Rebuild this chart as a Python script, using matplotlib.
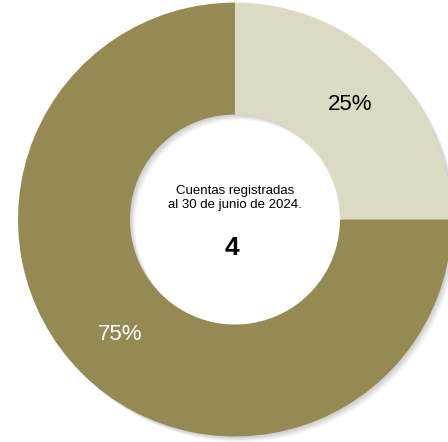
import matplotlib
matplotlib.use("Agg")
import matplotlib.pyplot as plt
from matplotlib.patches import Wedge

plt.rcParams['font.family'] = ['Liberation Sans', 'DejaVu Sans']

labels = ['Segmento A', 'Segmento B']
values = [1, 3]
colors = ['#DDD9C3', '#968A54']
pct_colors = ['black', 'white']
center_title = 'Cuentas registradas\nal 30 de junio de 2024.'
center_value = '4'

fig = plt.figure(figsize=(4.48, 4.42), dpi=100)
ax = fig.add_axes([0, 0, 1, 1])
ax.axis('off')

ring_width = 0.516

# soft drop shadow (offset right-down, layered for blur)
for k in range(8):
    off = 0.004 + 0.003 * k
    ax.add_patch(Wedge((off, -off), 1.0, 0, 360, width=ring_width,
                       facecolor='black', alpha=0.025, edgecolor='none', zorder=0))

wedges, texts, autotexts = ax.pie(
    values, colors=colors, startangle=90, counterclock=False,
    radius=1.0, autopct='%1.0f%%', pctdistance=0.75,
    wedgeprops=dict(width=ring_width, edgecolor='none'),
    textprops=dict(fontsize=16))
for t, c in zip(autotexts, pct_colors):
    t.set_color(c)
for w in wedges:
    w.set_zorder(2)
for t in autotexts:
    t.set_zorder(3)

ax.set_xlim(-1.083, 0.982)
ax.set_ylim(-1.025, 1.0115)
ax.set_aspect('equal')

ax.text(0, 0.10, center_title, ha='center', va='center', fontsize=9.5,
        linespacing=1.2, zorder=4)
ax.text(-0.015, -0.13, center_value, ha='center', va='center', fontsize=19,
        fontweight='bold', zorder=4)

fig.savefig('out.png', dpi=100)
